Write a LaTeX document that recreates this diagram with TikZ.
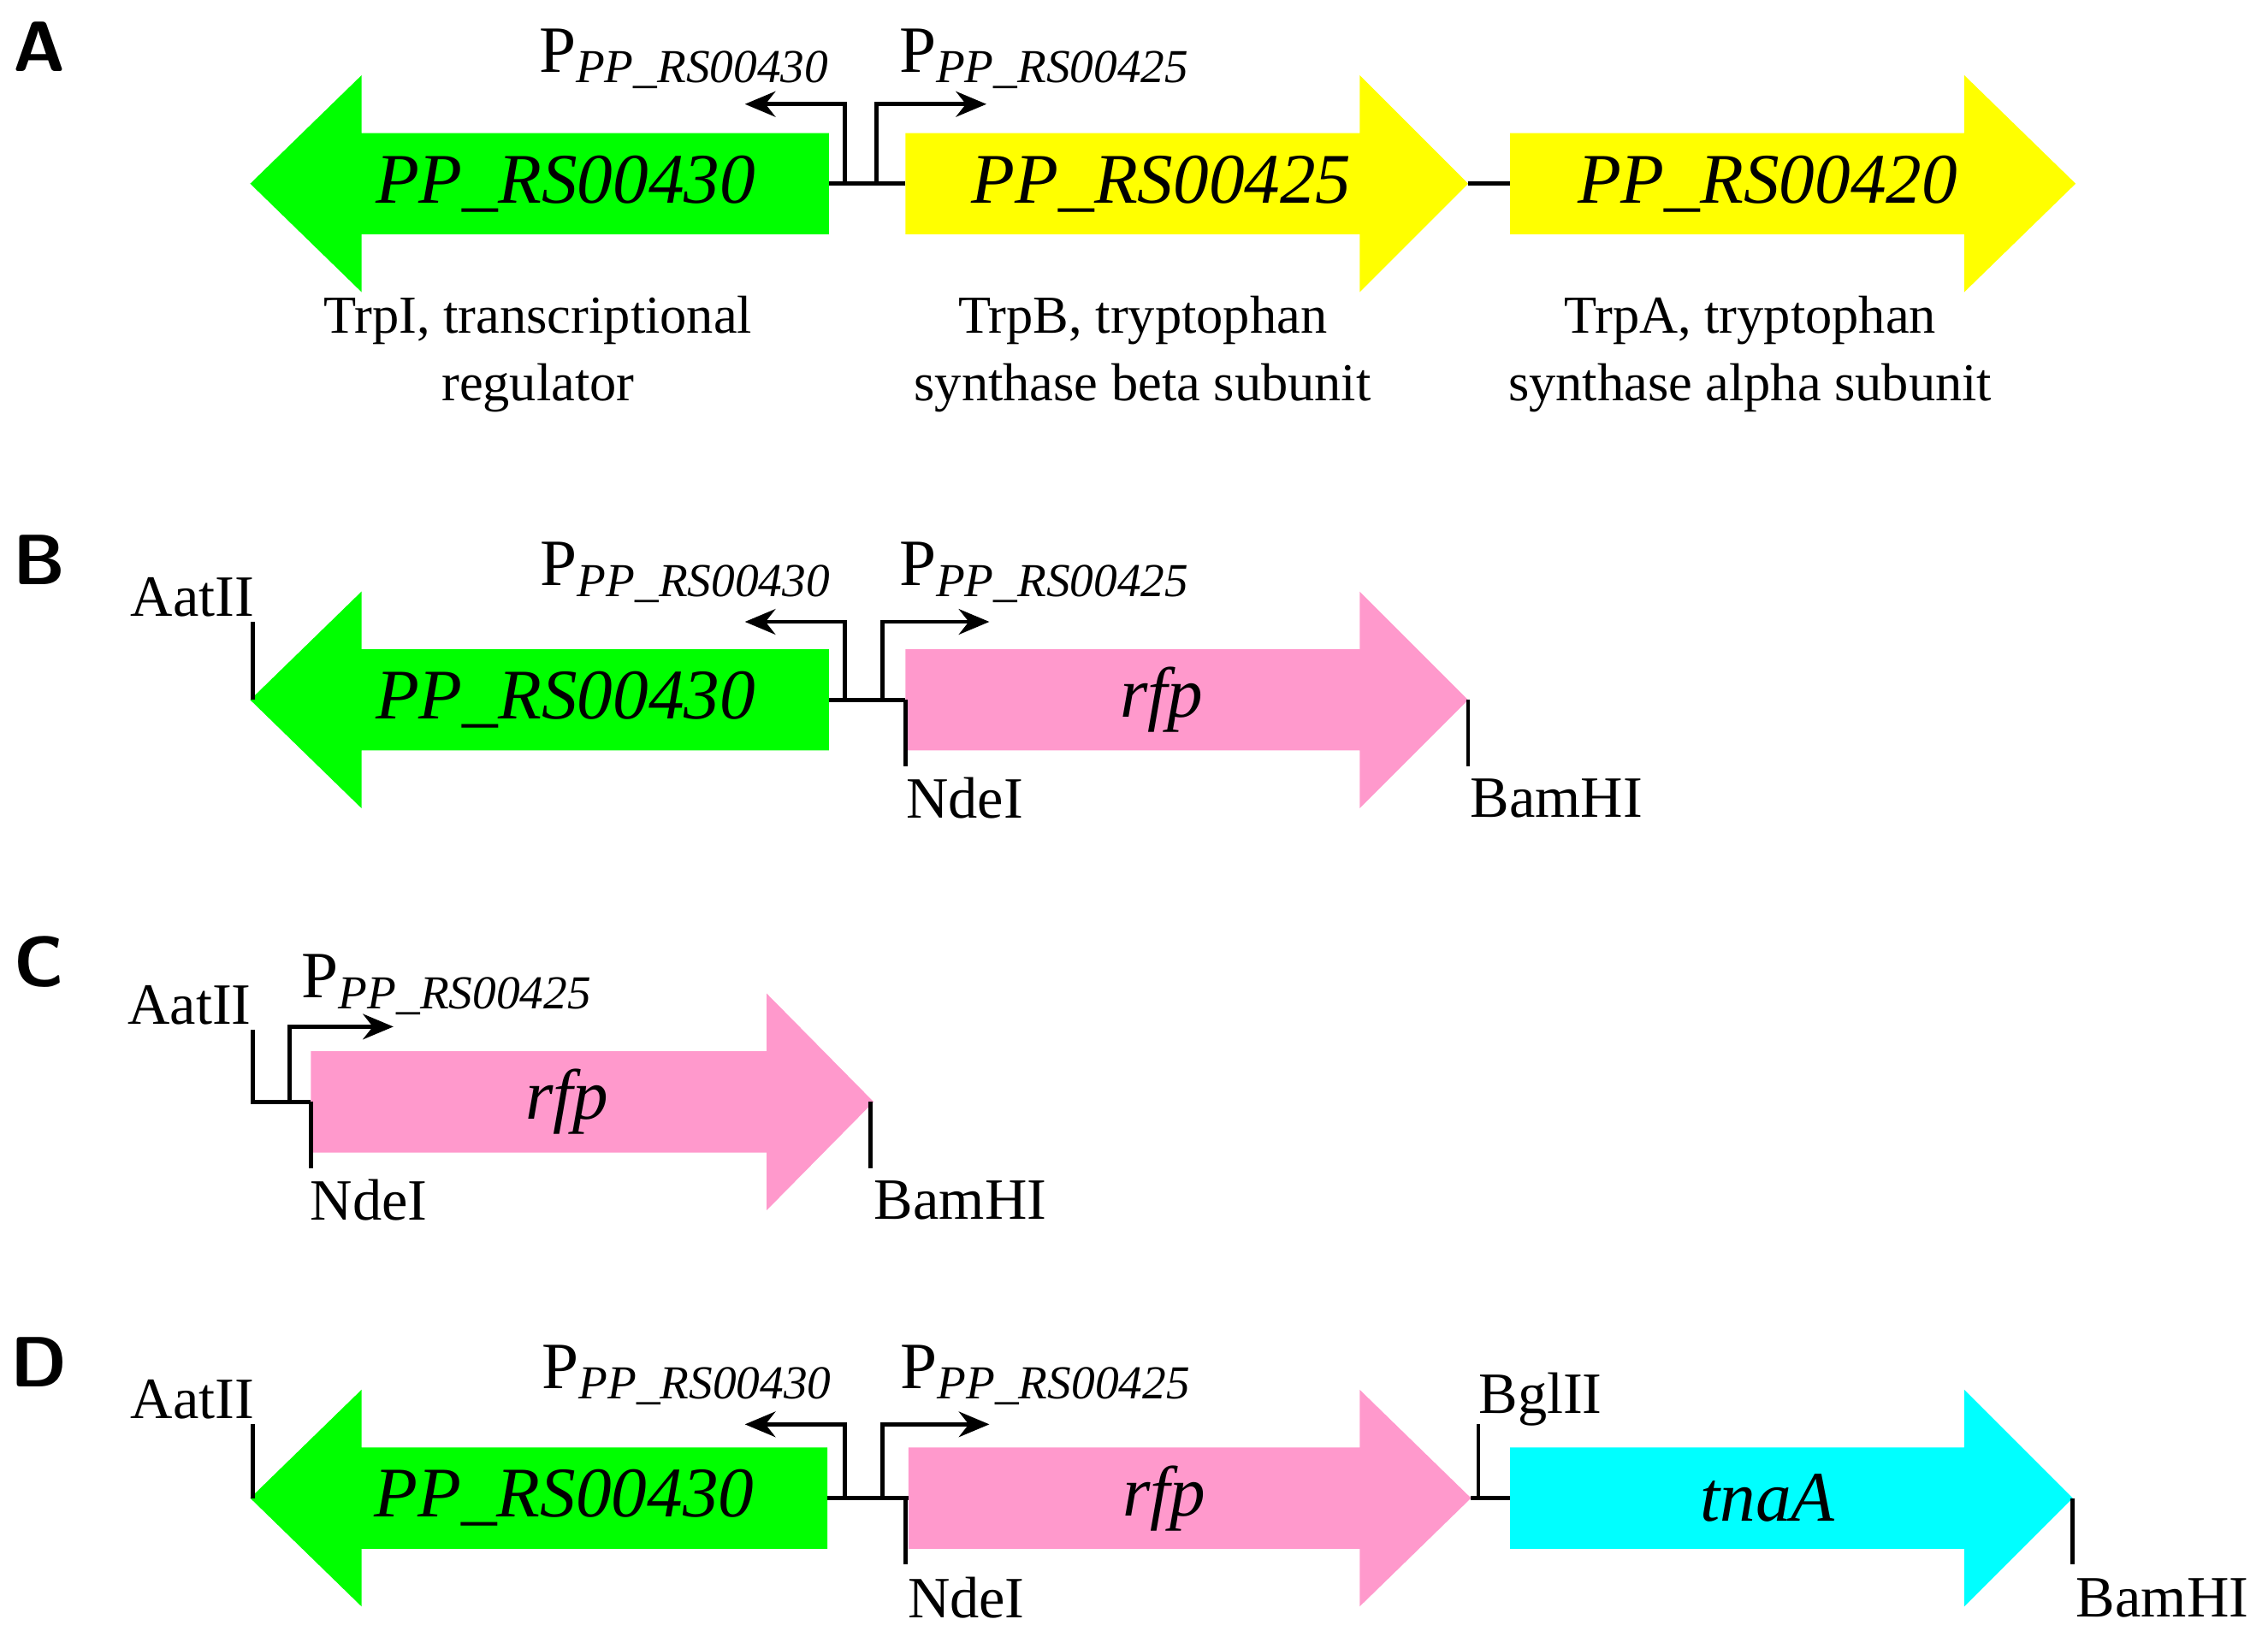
\documentclass[tikz,border=0pt]{standalone}
\usepackage{fontspec}
\setmainfont{Liberation Serif}
\usetikzlibrary{arrows.meta}
\definecolor{gGreen}{RGB}{0,255,0}
\definecolor{gYellow}{RGB}{255,255,0}
\definecolor{gPink}{RGB}{255,153,204}
\definecolor{gCyan}{RGB}{0,255,255}
\tikzset{
  wire/.style={line width=0.8pt},
  prom/.style={line width=0.8pt,-{Stealth[length=6pt,width=5pt]}},
  genelab/.style={font=\fontsize{14}{16}\selectfont\itshape},
  desc/.style={font=\fontsize{10.5}{13.2}\selectfont,align=center},
  site/.style={font=\fontsize{11.5}{13}\selectfont},
  plab/.style={font=\fontsize{13}{15}\selectfont,anchor=base west,inner sep=0pt},
  panel/.style={font=\sffamily\bfseries\fontsize{14}{16}\selectfont}
}
\newcommand{\gA}[5]{%
  \fill[#5] (#1,#4-35) -- (#2,#4-35) -- (#2,#4-75) -- (#3,#4) -- (#2,#4+75) -- (#2,#4+35) -- (#1,#4+35) -- cycle;}
\newcommand{\Psub}[1]{P\raisebox{-0.35ex}{\fontsize{9.3}{10}\selectfont\itshape #1}}
\begin{document}
\begin{tikzpicture}[x=0.01cm,y=-0.01cm]
\useasboundingbox (0,0) rectangle (1568,1132);
% ---------- A ----------
\node[panel] (pA) at (27,32) {A};
\gA{573}{250}{173}{127}{gGreen}
\gA{626}{940}{1015}{127}{gYellow}
\gA{1044}{1358}{1435}{127}{gYellow}
\node[genelab] (a1t) at (391,127) {PP\_RS00430};
\node[genelab] (a2t) at (803,127) {PP\_RS00425};
\node[genelab] (a3t) at (1222,127) {PP\_RS00420};
\coordinate (a1e) at (573,127); \coordinate (a2s) at (626,127);
\coordinate (a2e) at (1015,127); \coordinate (a3s) at (1044,127);
\draw[wire] (a1e) -- (a2s); \draw[wire] (a2e) -- (a3s);
\coordinate (apl) at (584,127); \coordinate (apr) at (606,127);
\draw[prom] (apl) -- (584,72) -- (515,72);
\draw[prom] (apr) -- (606,72) -- (682,72);
\node[plab] (apL) at (372,50) {\Psub{PP\_RS00430}};
\node[plab] (apR) at (621,50) {\Psub{PP\_RS00425}};
\node[desc] (d1) at (372,245) {TrpI, transcriptional\\regulator};
\node[desc] (d2) at (790,245) {TrpB, tryptophan\\synthase beta subunit};
\node[desc] (d3) at (1210,245) {TrpA, tryptophan\\synthase alpha subunit};
% ---------- B ----------
\node[panel] (pB) at (27,387) {B};
\gA{573}{250}{173}{484}{gGreen}
\gA{626}{940}{1015}{484}{gPink}
\node[genelab] (b1t) at (391,484) {PP\_RS00430};
\node[genelab] (b2t) at (803,484) {rfp};
\coordinate (b1e) at (573,484); \coordinate (b2s) at (626,484);
\draw[wire] (b1e) -- (b2s);
\draw[prom] (584,484) -- (584,430) -- (515,430);
\draw[prom] (610,484) -- (610,430) -- (684,430);
\node[plab] (bpL) at (373,405) {\Psub{PP\_RS00430}};
\node[plab] (bpR) at (621,405) {\Psub{PP\_RS00425}};
\draw[wire] (175,430) -- (175,484);
\node[site] (bA) at (133,413) {AatII};
\draw[wire] (626,484) -- (626,530);
\node[site] (bN) at (667,552) {NdeI};
\draw[wire] (1015,484) -- (1015,530);
\node[site] (bB) at (1076,552) {BamHI};
% ---------- C ----------
\node[panel] (pC) at (27,665) {C};
\gA{215}{530}{604}{762}{gPink}
\node[genelab] (c1t) at (392,762) {rfp};
\draw[wire] (175,712) -- (175,762) -- (215,762);
\node[site] (cA) at (131,695) {AatII};
\draw[prom] (200,762) -- (200,710) -- (272,710);
\node[plab] (cp) at (208,690) {\Psub{PP\_RS00425}};
\draw[wire] (215,762) -- (215,808);
\node[site] (cN) at (255,830) {NdeI};
\draw[wire] (602,762) -- (602,808);
\node[site] (cB) at (664,830) {BamHI};
% ---------- D ----------
\node[panel] (pD) at (27,942) {D};
\gA{572}{250}{173}{1036}{gGreen}
\gA{628}{940}{1017}{1036}{gPink}
\gA{1044}{1358}{1433}{1036}{gCyan}
\node[genelab] (d1t) at (390,1036) {PP\_RS00430};
\node[genelab] (d2t) at (805,1036) {rfp};
\node[genelab] (d3t) at (1222,1036) {tnaA};
\draw[wire] (572,1036) -- (628,1036);
\draw[wire] (1017,1036) -- (1044,1036);
\draw[prom] (584,1036) -- (584,985) -- (515,985);
\draw[prom] (610,1036) -- (610,985) -- (684,985);
\node[plab] (dpL) at (374,960) {\Psub{PP\_RS00430}};
\node[plab] (dpR) at (622,960) {\Psub{PP\_RS00425}};
\draw[wire] (175,985) -- (175,1036);
\node[site] (dA) at (133,968) {AatII};
\draw[wire] (626,1036) -- (626,1082);
\node[site] (dN) at (668,1105) {NdeI};
\draw[wire] (1022,985) -- (1022,1036);
\node[site] (dG) at (1065,968) {BglII};
\draw[wire] (1433,1036) -- (1433,1082);
\node[site] (dB) at (1495,1105) {BamHI};
\end{tikzpicture}
\end{document}
